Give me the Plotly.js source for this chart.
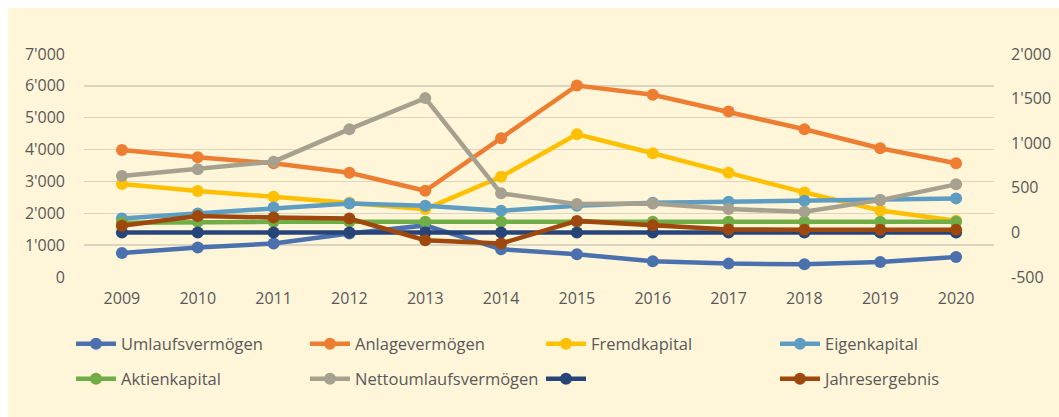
<!DOCTYPE html>
<html>
<head>
<meta charset="utf-8">
<script src="https://cdn.plot.ly/plotly-3.0.1.min.js"></script>
<style>
  html, body { margin: 0; padding: 0; background: #ffffff; overflow: hidden; }
  #chart { position: absolute; left: 8px; top: 8px; width: 1051px; height: 409px; }
</style>
</head>
<body>
<div id="chart"></div>
<script>
// ---- data ----
const years = ['2009','2010','2011','2012','2013','2014','2015','2016','2017','2018','2019','2020'];
const umlaufsvermoegen = [755, 925, 1050, 1365, 1620, 870, 715, 494, 420, 400, 473, 630];
const anlagevermoegen = [3988, 3757, 3568, 3274, 2707, 4355, 6012, 5719, 5194, 4638, 4040, 3568];
const fremdkapital = [2918, 2697, 2518, 2330, 2131, 3148, 4482, 3884, 3274, 2656, 2089, 1763];
const eigenkapital = [1840, 1995, 2184, 2310, 2235, 2078, 2235, 2330, 2361, 2392, 2414, 2468];
const aktienkapital = [1700, 1731, 1731, 1731, 1731, 1731, 1731, 1731, 1731, 1731, 1731, 1731];
const nettoumlaufsvermoegen = [3170, 3380, 3620, 4640, 5615, 2625, 2288, 2310, 2131, 2046, 2414, 2908];
const nullLinie = [0, 0, 0, 0, 0, 0, 0, 0, 0, 0, 0, 0];
const jahresergebnis = [75, 185, 167, 156, -88, -125, 129, 81, 33, 30, 30, 30];

const leftTickVals = [0, 1000, 2000, 3000, 4000, 5000, 6000, 7000];
const leftTickText = ["0", "1'000", "2'000", "3'000", "4'000", "5'000", "6'000", "7'000"];
const rightTickVals = [-500, 0, 500, 1000, 1500, 2000];
const rightTickText = ["-500", "0", "500", "1'000", "1'500", "2'000"];

const seriesNames = ['Umlaufsvermögen', 'Anlagevermögen', 'Fremdkapital', 'Eigenkapital',
                     'Aktienkapital', 'Nettoumlaufsvermögen', '', 'Jahresergebnis'];

// ---- styling ----
const colors = ['#4A71AE', '#ED7D31', '#FFC000', '#5E9DC2', '#70AD47', '#A6A18F', '#264478', '#9E480E'];
const textColor = '#595959';
const fontFam = '"Open Sans", "Noto Sans", sans-serif';
const bg = '#FFF5D9';

const seriesData = [umlaufsvermoegen, anlagevermoegen, fremdkapital, eigenkapital,
                    aktienkapital, nettoumlaufsvermoegen, nullLinie, jahresergebnis];
const onRight = [false, false, false, false, false, false, true, true];

// legend placement (pixels within the chart div)
const legendColX = [63, 297, 533, 767, 63, 297, 533, 767];
const legendRowY = [336, 336, 336, 336, 371, 371, 371, 371];

const legendIds = seriesData.map((_, i) => i === 0 ? 'legend' : 'legend' + (i + 1));

const traces = seriesData.map((vals, i) => ({
  x: years,
  y: vals,
  name: seriesNames[i],
  type: 'scatter',
  mode: 'lines+markers',
  yaxis: onRight[i] ? 'y2' : 'y',
  line: { color: colors[i], width: 4.5 },
  marker: { color: colors[i], size: 12 },
  legend: legendIds[i],
  hoverinfo: 'x+y+name'
}));

const W = 1051, H = 409;

const layout = {
  width: W, height: H,
  paper_bgcolor: bg, plot_bgcolor: bg,
  margin: { l: 76, r: 65, t: 46, b: 140, pad: 0 },
  font: { family: fontFam, size: 16, color: textColor },
  showlegend: true,
  xaxis: {
    type: 'category',
    range: [-0.5, 11.5],
    showgrid: false, zeroline: false, showline: false,
    ticks: '', ticklabelstandoff: 10,
    tickfont: { family: fontFam, size: 16, color: textColor }
  },
  yaxis: {
    range: [0, 7000],
    tickvals: leftTickVals, ticktext: leftTickText,
    showgrid: true, gridcolor: '#DAD4C0', gridwidth: 1.3,
    zeroline: false, showline: false, ticks: '',
    ticklabelstandoff: 18,
    tickfont: { family: fontFam, size: 16, color: textColor }
  },
  yaxis2: {
    overlaying: 'y', side: 'right',
    range: [-500, 2000],
    tickvals: rightTickVals, ticktext: rightTickText,
    showgrid: false, zeroline: false, showline: false, ticks: '',
    ticklabelstandoff: 16,
    tickfont: { family: fontFam, size: 16, color: textColor }
  }
};

legendIds.forEach((id, i) => {
  layout[id] = {
    orientation: 'h',
    xref: 'container', yref: 'container',
    xanchor: 'left', yanchor: 'middle',
    x: legendColX[i] / W,
    y: (H - legendRowY[i]) / H,
    itemwidth: 40,
    bgcolor: 'rgba(0,0,0,0)',
    font: { family: fontFam, size: 16.5, color: textColor }
  };
});

Plotly.newPlot('chart', traces, layout, { displayModeBar: false, staticPlot: true });
</script>
</body>
</html>
